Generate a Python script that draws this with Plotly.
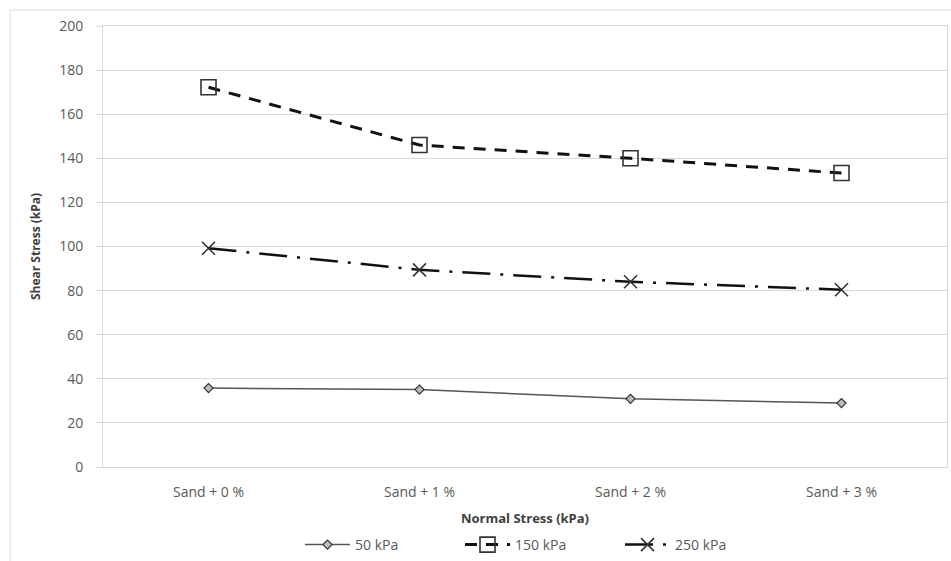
import plotly.graph_objects as go

# Mixtures on the x axis and the measured shear stress for each normal stress
categories = ["Sand + 0 %", "Sand + 1 %", "Sand + 2 %", "Sand + 3 %"]
shear_50 = [35.8, 35.1, 30.9, 29.0]
shear_150 = [172.2, 146.0, 140.0, 133.3]
shear_250 = [99.2, 89.4, 84.0, 80.4]
y_ticks = [0, 20, 40, 60, 80, 100, 120, 140, 160, 180, 200]

W, H = 951, 561
L, R, T, B = 103, 4, 26, 94
plot_w = W - L - R
plot_h = H - T - B

FONT = "'Open Sans', sans-serif"
GREY_TXT = "#595959"
GRID = "#d9d9d9"

fig = go.Figure()

fig.add_trace(go.Scatter(
    x=categories, y=shear_50, name="50 kPa", mode="lines+markers",
    line=dict(color="#555555", width=1.5),
    marker=dict(symbol="diamond", size=7, color="#bbbbbb",
                line=dict(color="#333333", width=1.2)),
))
fig.add_trace(go.Scatter(
    x=categories, y=shear_150, name="150 kPa", mode="lines+markers",
    line=dict(color="#111111", width=3, dash="12px,9px"),
    marker=dict(symbol="square-open", size=15, color="#333333",
                line=dict(color="#333333", width=1.6)),
))
fig.add_trace(go.Scatter(
    x=categories, y=shear_250, name="250 kPa", mode="lines+markers",
    line=dict(color="#111111", width=2.5, dash="28px,10px,3px,10px"),
    marker=dict(symbol="x-thin-open", size=13, color="#333333",
                line=dict(color="#333333", width=1.6)),
))

# Outer chart frame
fig.add_shape(
    type="rect", xref="paper", yref="paper",
    x0=(10 - L) / plot_w, x1=(W + 5 - L) / plot_w,
    y0=-(H + 5 - T - plot_h) / plot_h, y1=1 + (T - 10) / plot_h,
    line=dict(color="#d9d9d9", width=1), layer="below",
)

fig.update_layout(
    width=W, height=H,
    margin=dict(l=L, r=R, t=T, b=B, autoexpand=False),
    paper_bgcolor="white", plot_bgcolor="white",
    font=dict(family=FONT, size=14, color=GREY_TXT),
    showlegend=True,
    legend=dict(
        orientation="h", x=(300 - L) / plot_w, xanchor="left",
        y=-(545 - T - plot_h) / plot_h, yanchor="middle",
        font=dict(size=14, color=GREY_TXT), itemwidth=45,
        entrywidth=100, entrywidthmode="pixels",
        tracegroupgap=0,
    ),
    xaxis=dict(
        type="category", showgrid=False, showline=True,
        linecolor=GRID, linewidth=1, mirror=True, ticks="",
        tickfont=dict(size=14, color=GREY_TXT), ticklabelstandoff=12,
        title=dict(text="<b>Normal Stress (kPa)</b>", standoff=14,
                   font=dict(size=13, color="#404040")),
        range=[-0.5, 3.5],
    ),
    yaxis=dict(
        range=[0, 200], tickvals=y_ticks, showgrid=True, gridcolor=GRID,
        gridwidth=1, showline=True, linecolor=GRID, linewidth=1, mirror=True,
        ticks="outside", ticklen=6, tickcolor=GRID,
        tickfont=dict(size=14, color=GREY_TXT), ticklabelstandoff=10,
        title=dict(text="<b>Shear Stress (kPa)</b>", standoff=15,
                   font=dict(size=12, color="#404040")),
        zeroline=False,
    ),
)

fig.write_html("out.html")
